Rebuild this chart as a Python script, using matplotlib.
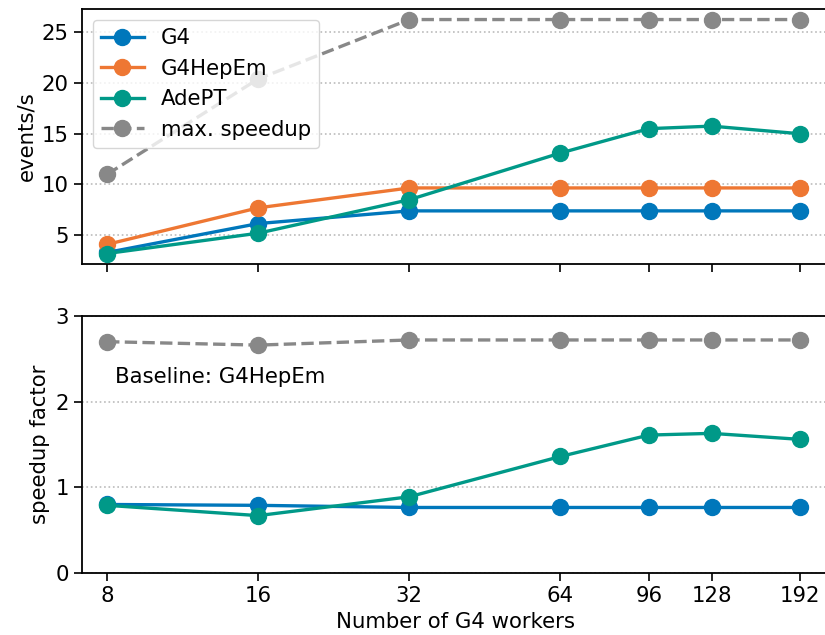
import matplotlib
matplotlib.use("Agg")
import matplotlib.pyplot as plt
from matplotlib.ticker import FixedLocator, NullLocator, NullFormatter

workers = [8, 16, 32, 64, 96, 128, 192]
tick_labels = ["8", "16", "32", "64", "96", "128", "192"]

ev_g4 = [3.3, 6.15, 7.4, 7.4, 7.4, 7.4, 7.4]
ev_hepem = [4.1, 7.7, 9.66, 9.66, 9.66, 9.66, 9.66]
ev_adept = [3.2, 5.2, 8.5, 13.1, 15.5, 15.75, 15.0]
ev_max = [11.0, 20.4, 26.25, 26.25, 26.25, 26.25, 26.25]

sp_g4 = [0.80, 0.79, 0.765, 0.765, 0.765, 0.765, 0.765]
sp_adept = [0.79, 0.67, 0.89, 1.36, 1.61, 1.63, 1.56]
sp_max = [2.70, 2.66, 2.72, 2.72, 2.72, 2.72, 2.72]

c_g4 = "#0077BB"
c_hepem = "#EE7733"
c_adept = "#009988"
c_max = "#888888"

FS = 15.3
plt.rcParams["font.family"] = ["DejaVu Sans"]
plt.rcParams["font.size"] = FS

fig = plt.figure(figsize=(8.25, 6.35), dpi=100)
ax1 = fig.add_axes([0.0994, 0.584, 0.905, 0.402])
ax2 = fig.add_axes([0.0994, 0.0976, 0.905, 0.4048])

lw = 2.4
ms = 11.5

ax1.plot(workers, ev_g4, "-o", color=c_g4, lw=lw, ms=ms, label="G4", zorder=3)
ax1.plot(workers, ev_hepem, "-o", color=c_hepem, lw=lw, ms=ms, label="G4HepEm", zorder=3)
ax1.plot(workers, ev_adept, "-o", color=c_adept, lw=lw, ms=ms, label="AdePT", zorder=3)
ax1.plot(workers, ev_max, "--o", color=c_max, lw=lw, ms=ms, label="max. speedup", zorder=3)

ax2.plot(workers, sp_g4, "-o", color=c_g4, lw=lw, ms=ms, zorder=3)
ax2.plot(workers, sp_adept, "-o", color=c_adept, lw=lw, ms=ms, zorder=3)
ax2.plot(workers, sp_max, "--o", color=c_max, lw=lw, ms=ms, zorder=3)

for ax in (ax1, ax2):
    ax.set_xscale("log", base=2)
    ax.set_xlim(7.13, 219)
    ax.xaxis.set_major_locator(FixedLocator(workers))
    ax.xaxis.set_minor_locator(NullLocator())
    ax.xaxis.set_minor_formatter(NullFormatter())
    ax.grid(axis="y", linestyle=":", color="#bbbbbb", lw=1.2)
    ax.tick_params(length=6, width=1.2, labelsize=FS)
    for s in ax.spines.values():
        s.set_linewidth(1.3)
    ax.spines["right"].set_visible(False)

ax1.set_xticklabels([])
ax1.set_ylim(2.15, 27.3)
ax1.set_yticks([5, 10, 15, 20, 25])
ax1.set_ylabel("events/s", fontsize=FS)
ax1.legend(loc="upper left", fontsize=FS, borderaxespad=0.5, handlelength=2.0)

ax2.set_xticklabels(tick_labels)
ax2.set_ylim(0, 3)
ax2.set_yticks([0, 1, 2, 3])
ax2.set_ylabel("speedup factor", fontsize=FS)
ax2.set_xlabel("Number of G4 workers", fontsize=FS)
ax2.text(8.3, 2.29, "Baseline: G4HepEm", fontsize=FS, va="center", ha="left")

fig.savefig("out.png", dpi=100)
